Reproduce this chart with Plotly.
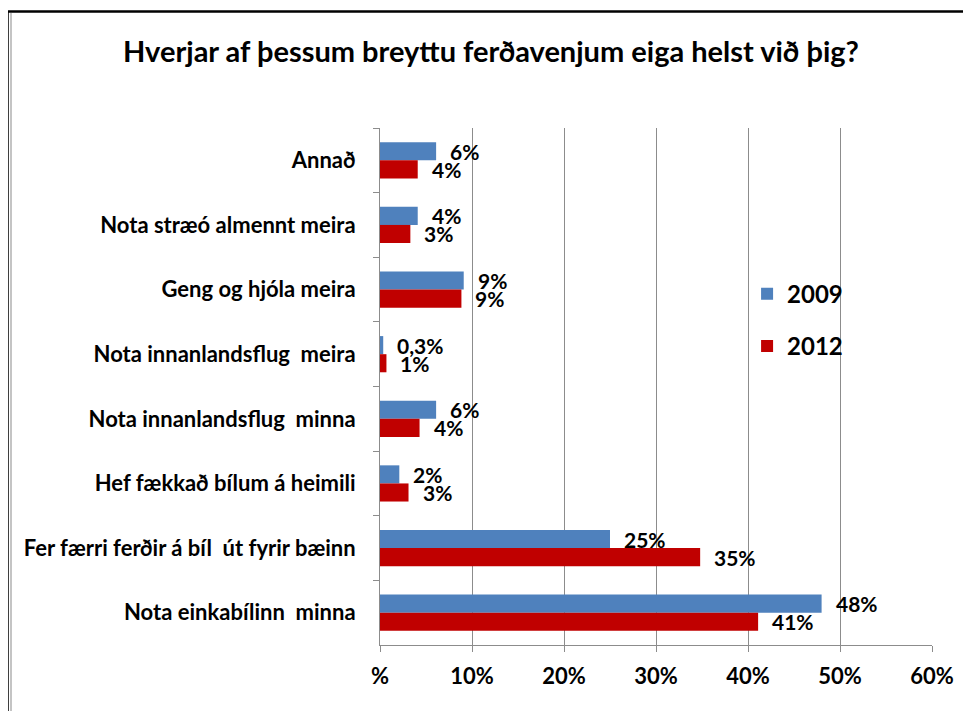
import plotly.graph_objects as go

categories = [
    "Annað",
    "Nota stræó almennt meira",
    "Geng og hjóla meira",
    "Nota innanlandsflug\u00a0 meira",
    "Nota innanlandsflug\u00a0 minna",
    "Hef fækkað bílum á heimili",
    "Fer færri ferðir á bíl\u00a0 út fyrir bæinn",
    "Nota einkabílinn\u00a0 minna",
]
values_2009 = [0.061, 0.041, 0.091, 0.0035, 0.061, 0.021, 0.250, 0.480]
values_2012 = [0.041, 0.033, 0.0885, 0.007, 0.043, 0.031, 0.348, 0.411]
labels_2009 = ["6%", "4%", "9%", "0,3%", "6%", "2%", "25%", "48%"]
labels_2012 = ["4%", "3%", "9%", "1%", "4%", "3%", "35%", "41%"]
tick_vals = [0, 0.1, 0.2, 0.3, 0.4, 0.5, 0.6]
tick_text = ["%", "10%", "20%", "30%", "40%", "50%", "60%"]

FONT = "Lato"
BLUE = "#4F81BD"
RED = "#C00000"
GRID = "#8c8c8c"

# page has an 8px body margin; figure is sized so the page matches the reference
W, H = 963, 703
ML, MT, MR, MB = 372, 120, 39, 66
PW, PH = W - ML - MR, H - MT - MB

fig = go.Figure()
fig.add_trace(go.Bar(y=categories, x=values_2009, orientation="h", name="2009",
                     marker=dict(color=BLUE, line=dict(width=0)), legendgroup="a"))
fig.add_trace(go.Bar(y=categories, x=values_2012, orientation="h", name="2012",
                     marker=dict(color=RED, line=dict(width=0)), legendgroup="b"))

annotations = []
for cat, v, t in zip(categories, values_2009, labels_2009):
    annotations.append(dict(x=v, y=cat, xref="x", yref="y", text=t, showarrow=False,
                            xanchor="left", yanchor="middle", xshift=12, yshift=9,
                            font=dict(family=FONT, size=21, color="black", weight="bold")))
for cat, v, t in zip(categories, values_2012, labels_2012):
    annotations.append(dict(x=v, y=cat, xref="x", yref="y", text=t, showarrow=False,
                            xanchor="left", yanchor="middle", xshift=12, yshift=-9,
                            font=dict(family=FONT, size=21, color="black", weight="bold")))

fig.update_layout(
    width=W, height=H,
    margin=dict(l=ML, r=MR, t=MT, b=MB),
    paper_bgcolor="white", plot_bgcolor="white",
    barmode="group", bargap=0.44, bargroupgap=0,
    title=dict(text="Hverjar af þessum breyttu ferðavenjum eiga helst við þig?",
               x=483 / W, xref="container", xanchor="center",
               y=1 - 44 / H, yref="container", yanchor="middle",
               font=dict(family=FONT, size=29, color="black", weight="bold")),
    font=dict(family=FONT, color="black"),
    legend=dict(x=0.665, y=0.722, xanchor="left", yanchor="top",
                font=dict(family=FONT, size=24, color="black", weight="bold"),
                traceorder="grouped", tracegroupgap=18, bgcolor="rgba(0,0,0,0)",
                itemwidth=30),
    annotations=annotations,
    xaxis=dict(range=[0, 0.6], tickvals=tick_vals, ticktext=tick_text,
               showgrid=True, gridcolor=GRID, gridwidth=1,
               showline=True, linecolor=GRID, linewidth=1,
               ticks="outside", ticklen=6, tickcolor=GRID,
               tickfont=dict(family=FONT, size=22, color="black", weight="bold"),
               ticklabelstandoff=6, zeroline=False, fixedrange=True),
    yaxis=dict(autorange="reversed", showline=True, linecolor=GRID, linewidth=1,
               ticks="outside", ticklen=6, tickcolor=GRID, tickson="boundaries",
               showgrid=False,
               tickfont=dict(family=FONT, size=22, color="black", weight="bold"),
               ticklabelstandoff=19, fixedrange=True),
    shapes=[
        dict(type="rect", xref="paper", yref="paper",
             x0=(-0.5 - ML) / PW, x1=1.3, y0=-0.3, y1=1 + (MT - 3.5) / PH,
             line=dict(color="black", width=2.5), fillcolor="rgba(0,0,0,0)", layer="above"),
        dict(type="line", xref="paper", yref="paper",
             x0=(3 - ML) / PW, x1=(3 - ML) / PW, y0=-0.3, y1=1 + (MT - 5) / PH,
             line=dict(color="#b0b0b0", width=1.5)),
    ],
)

fig.write_html("out.html")
